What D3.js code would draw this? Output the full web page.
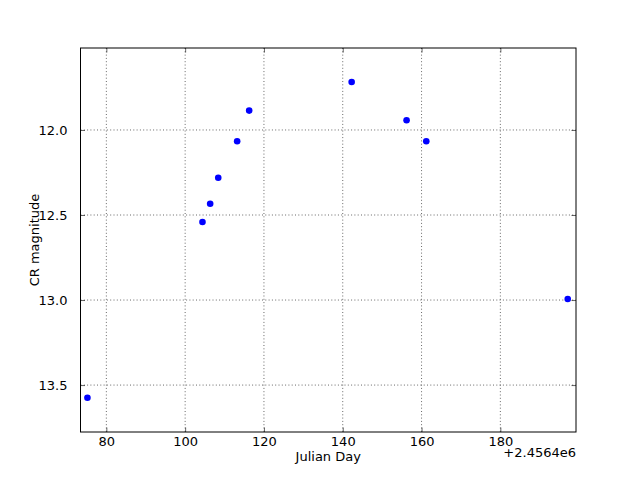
<!DOCTYPE html>
<html><head><meta charset="utf-8">
<script src="https://cdn.jsdelivr.net/npm/d3@7"></script>
<style>body{margin:0;background:#fff}svg{display:block}text{font-family:"DejaVu Sans",sans-serif;fill:#000}</style>
</head><body><div id="c"></div>
<script>
const offset = 2456400;
const julianDay = [75.2, 104.4, 106.35, 108.4, 113.2, 116.25, 142.26, 156.2, 161.2, 197.1];
const crMag = [13.575, 12.541, 12.434, 12.281, 12.066, 11.886, 11.718, 11.943, 12.066, 12.994];
const xTicks = [80, 100, 120, 140, 160, 180];
const yTicks = [12.0, 12.5, 13.0, 13.5];
const xDomain = [73.44, 199.2];
const yDomain = [11.518, 13.776];

const W = 640, H = 480;
const L = 80.5, R = 576, T = 48, B = 432;
const svg = d3.select("#c").append("svg").attr("width", W).attr("height", H);
const x = d3.scaleLinear().domain(xDomain).range([L, R]);
const y = d3.scaleLinear().domain(yDomain).range([T, B]);

// grid
const g = svg.append("g");
g.selectAll(".gx").data(xTicks).enter().append("line")
  .attr("x1", d => x(d)).attr("x2", d => x(d)).attr("y1", T).attr("y2", B)
  .attr("stroke", "#000").attr("stroke-width", 0.6).attr("stroke-dasharray", "1,2.3");
g.selectAll(".gy").data(yTicks).enter().append("line")
  .attr("y1", d => y(d)).attr("y2", d => y(d)).attr("x1", L).attr("x2", R)
  .attr("stroke", "#000").attr("stroke-width", 0.6).attr("stroke-dasharray", "1,2.3");

// axes with inward ticks
const fmtX = d3.format("d"), fmtY = d3.format(".1f");
const ax = (axis, tr) => {
  const a = svg.append("g").attr("transform", tr).call(axis);
  a.select(".domain").remove();
  a.selectAll("text").style("font-family", '"DejaVu Sans",sans-serif').style("font-size", "13px");
  return a;
};
ax(d3.axisBottom(x).tickValues(xTicks).tickFormat(fmtX).tickSizeInner(-4.5).tickPadding(4.5), `translate(0,${B})`);
ax(d3.axisTop(x).tickValues(xTicks).tickFormat("").tickSizeInner(-4.5), `translate(0,${T})`);
ax(d3.axisLeft(y).tickValues(yTicks).tickFormat(fmtY).tickSizeInner(-4.5).tickPadding(13), `translate(${L},0)`);
ax(d3.axisRight(y).tickValues(yTicks).tickFormat("").tickSizeInner(-4.5), `translate(${R},0)`);
svg.selectAll(".tick line").attr("stroke", "#000").attr("stroke-width", 0.6);

// frame
svg.append("rect").attr("x", L).attr("y", T).attr("width", R - L).attr("height", B - T)
  .attr("fill", "none").attr("stroke", "#000").attr("stroke-width", 1);

// points
svg.append("g").selectAll("circle").data(julianDay).enter().append("circle")
  .attr("cx", d => x(d)).attr("cy", (d, i) => y(crMag[i])).attr("r", 3.3)
  .attr("fill", "#0000ff");

// labels
svg.append("text").attr("x", R).attr("y", 457).attr("text-anchor", "end")
  .style("font-size", "13px").text("+2.4564e6");
svg.append("text").attr("x", (L + R) / 2).attr("y", 461).attr("text-anchor", "middle")
  .style("font-size", "13px").text("Julian Day");
svg.append("text").attr("transform", `translate(38.5,${(T + B) / 2}) rotate(-90)`)
  .attr("text-anchor", "middle").style("font-size", "13px").text("CR magnitude");
</script></body></html>
